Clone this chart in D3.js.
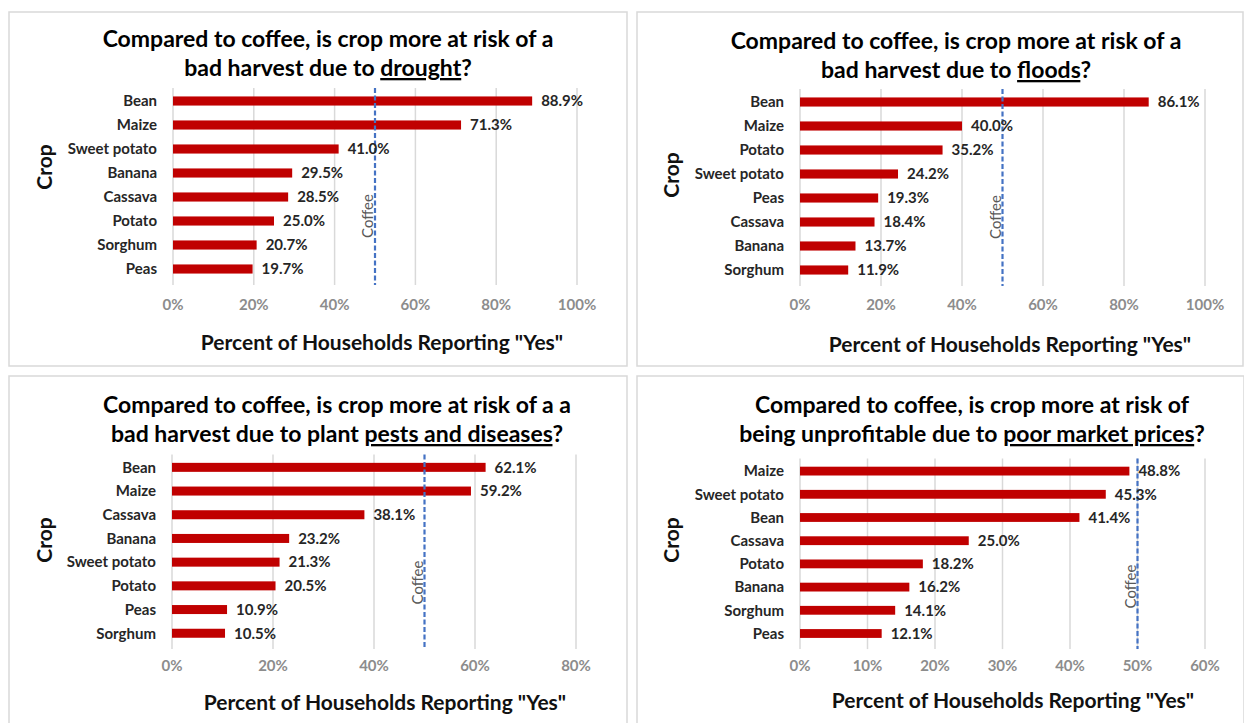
<!DOCTYPE html>
<meta charset="utf-8">
<head>
  <title>Crop risk compared to coffee</title>
</head>

<style>
body {
  margin: 0;
  background: white;
}
text {
  font-family: Lato, "Open Sans", sans-serif;
}
.frame {
  fill: white;
  stroke: #d9d9d9;
  stroke-width: 1.5;
}
.title {
  font-size: 23px;
  font-weight: bold;
  fill: #000;
}
.cat {
  font-size: 15px;
  font-weight: bold;
  fill: #262626;
}
.val {
  font-size: 15px;
  font-weight: bold;
  fill: #262626;
}
.tick {
  font-size: 15px;
  font-weight: bold;
  fill: #8c8c8c;
}
.axtitle {
  font-size: 21px;
  font-weight: bold;
  fill: #111;
}
.crop {
  font-size: 21px;
  font-weight: bold;
  fill: #111;
}
.coffee {
  font-size: 15px;
  fill: #595959;
}
.grid {
  stroke: #d9d9d9;
  stroke-width: 1.5;
}
.bar {
  fill: #c00000;
}
.ref {
  stroke: #4472c4;
  stroke-width: 2.2;
  stroke-dasharray: 5 2.5;
}
</style>

<body>
  <svg width="1244" height="723"></svg>

  <script src="https://cdnjs.cloudflare.com/ajax/libs/d3/7.8.5/d3.min.js"></script>
  <script>
// --- data ---
var droughtCrops = ["Bean", "Maize", "Sweet potato", "Banana", "Cassava", "Potato", "Sorghum", "Peas"];
var droughtVals = [88.9, 71.3, 41.0, 29.5, 28.5, 25.0, 20.7, 19.7];

var floodCrops = ["Bean", "Maize", "Potato", "Sweet potato", "Peas", "Cassava", "Banana", "Sorghum"];
var floodVals = [86.1, 40.0, 35.2, 24.2, 19.3, 18.4, 13.7, 11.9];

var pestCrops = ["Bean", "Maize", "Cassava", "Banana", "Sweet potato", "Potato", "Peas", "Sorghum"];
var pestVals = [62.1, 59.2, 38.1, 23.2, 21.3, 20.5, 10.9, 10.5];

var priceCrops = ["Maize", "Sweet potato", "Bean", "Cassava", "Potato", "Banana", "Sorghum", "Peas"];
var priceVals = [48.8, 45.3, 41.4, 25.0, 18.2, 16.2, 14.1, 12.1];

var droughtTicks = [0, 20, 40, 60, 80, 100];
var floodTicks = [0, 20, 40, 60, 80, 100];
var pestTicks = [0, 20, 40, 60, 80];
var priceTicks = [0, 10, 20, 30, 40, 50, 60];

var coffeeValue = 50;

// title lines: plain line, then [before, underlined, after]
var droughtTitle = ["Compared to coffee, is crop more at risk of a", ["bad harvest due to ", "drought", "?"]];
var floodTitle = ["Compared to coffee, is crop more at risk of a", ["bad harvest due to ", "floods", "?"]];
var pestTitle = ["Compared to coffee, is crop more at risk of a a", ["bad harvest due to plant ", "pests and diseases", "?"]];
var priceTitle = ["Compared to coffee, is crop more at risk of", ["being unprofitable due to ", "poor market prices", "?"]];

var xTitle = 'Percent of Households Reporting "Yes"';
var yTitle = "Crop";

// --- layout of the four panels ---
var panels = [
  { crops: droughtCrops, vals: droughtVals, ticks: droughtTicks, title: droughtTitle,
    box: [9, 12, 618, 354], x0: 173, x1: 577, top: 89, step: 24,
    titleX: 328, titleY: [47, 76], tickY: 305, axY: 343, axX: 382, cropX: 45, cropY: 167 },
  { crops: floodCrops, vals: floodVals, ticks: floodTicks, title: floodTitle,
    box: [637, 12, 606, 354], x0: 800, x1: 1205, top: 90, step: 24,
    titleX: 956, titleY: [49, 78], tickY: 305, axY: 345, axX: 1010, cropX: 672, cropY: 175 },
  { crops: pestCrops, vals: pestVals, ticks: pestTicks, title: pestTitle,
    box: [9, 376, 618, 360], x0: 172, x1: 576, top: 455.5, step: 23.7,
    titleX: 337, titleY: [413, 442], tickY: 666, axY: 703, axX: 385, cropX: 45, cropY: 540 },
  { crops: priceCrops, vals: priceVals, ticks: priceTicks, title: priceTitle,
    box: [637, 376, 607, 360], x0: 800, x1: 1205, top: 459.5, step: 23.2,
    titleX: 972, titleY: [413, 442], tickY: 666, axY: 701, axX: 1013, cropX: 672, cropY: 540 }
];

var svg = d3.select("svg");

panels.forEach(function(p) {
  var g = svg.append("g");

  g.append("rect")
    .attr("class", "frame")
    .attr("x", p.box[0]).attr("y", p.box[1])
    .attr("width", p.box[2]).attr("height", p.box[3]);

  var x = d3.scaleLinear()
    .domain([0, p.ticks[p.ticks.length - 1]])
    .range([p.x0, p.x1]);

  var y = d3.scaleBand()
    .domain(p.crops)
    .range([p.top, p.top + p.step * p.crops.length])
    .paddingInner(0.62)
    .paddingOuter(0.31);

  var gridTop = p.top - 1;
  var gridBottom = p.top + p.step * p.crops.length + 4;

  // gridlines
  g.selectAll(".grid")
    .data(p.ticks)
    .enter()
    .append("line")
    .attr("class", "grid")
    .attr("x1", function(d) { return x(d); })
    .attr("x2", function(d) { return x(d); })
    .attr("y1", gridTop)
    .attr("y2", gridBottom);

  // tick labels
  g.selectAll(".tick")
    .data(p.ticks)
    .enter()
    .append("text")
    .attr("class", "tick")
    .attr("x", function(d) { return x(d); })
    .attr("y", p.tickY)
    .attr("dy", "0.35em")
    .attr("text-anchor", "middle")
    .text(function(d) { return d + "%"; });

  // bars
  g.selectAll(".bar")
    .data(p.vals)
    .enter()
    .append("rect")
    .attr("class", "bar")
    .attr("x", x(0))
    .attr("y", function(d, i) { return y(p.crops[i]); })
    .attr("width", function(d) { return x(d) - x(0); })
    .attr("height", y.bandwidth());

  // category labels
  g.selectAll(".cat")
    .data(p.crops)
    .enter()
    .append("text")
    .attr("class", "cat")
    .attr("x", p.x0 - 16)
    .attr("y", function(d) { return y(d) + y.bandwidth() / 2; })
    .attr("dy", "0.35em")
    .attr("text-anchor", "end")
    .text(function(d) { return d; });

  // coffee reference line
  var cx = x(coffeeValue);
  g.append("line")
    .attr("class", "ref")
    .attr("x1", cx).attr("x2", cx)
    .attr("y1", gridTop).attr("y2", gridBottom);

  g.append("text")
    .attr("class", "coffee")
    .attr("transform", "translate(" + (cx - 2) + "," + (gridTop + 128) + ") rotate(-90)")
    .attr("text-anchor", "middle")
    .text("Coffee");

  // value labels
  g.selectAll(".val")
    .data(p.vals)
    .enter()
    .append("text")
    .attr("class", "val")
    .attr("x", function(d) { return x(d) + 9; })
    .attr("y", function(d, i) { return y(p.crops[i]) + y.bandwidth() / 2; })
    .attr("dy", "0.35em")
    .text(function(d) { return d.toFixed(1) + "%"; });

  // title
  g.append("text")
    .attr("class", "title")
    .attr("x", p.titleX)
    .attr("y", p.titleY[0])
    .attr("text-anchor", "middle")
    .text(p.title[0]);

  var t2 = g.append("text")
    .attr("class", "title")
    .attr("x", p.titleX)
    .attr("y", p.titleY[1])
    .attr("text-anchor", "middle");
  t2.append("tspan").text(p.title[1][0]);
  t2.append("tspan").style("text-decoration", "underline").text(p.title[1][1]);
  t2.append("tspan").text(p.title[1][2]);

  // axis titles
  g.append("text")
    .attr("class", "axtitle")
    .attr("x", p.axX)
    .attr("y", p.axY)
    .attr("dy", "0.35em")
    .attr("text-anchor", "middle")
    .text(xTitle);

  g.append("text")
    .attr("class", "crop")
    .attr("transform", "translate(" + p.cropX + "," + p.cropY + ") rotate(-90)")
    .attr("dy", "0.35em")
    .attr("text-anchor", "middle")
    .text(yTitle);
});
  </script>
</body>
</html>
